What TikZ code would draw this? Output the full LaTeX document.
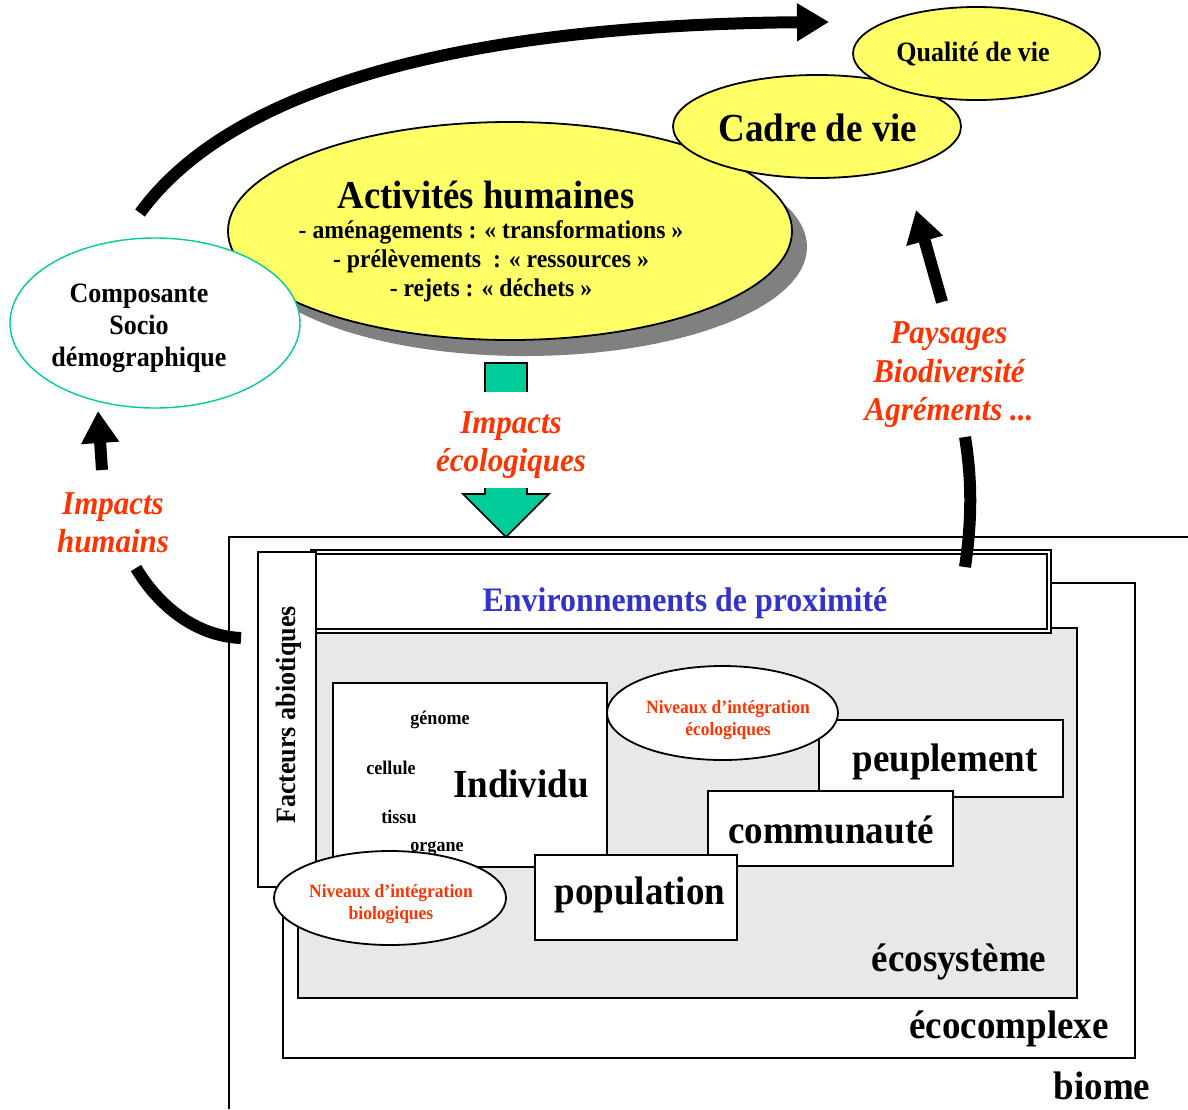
\documentclass[tikz,border=0pt]{standalone}
\usepackage{fontspec}
\setmainfont{Liberation Serif}[FakeStretch=0.93]
\usetikzlibrary{shapes.geometric,arrows.meta}
\definecolor{ylw}{HTML}{FFFF66}
\definecolor{grn}{HTML}{00CC99}
\definecolor{rd}{HTML}{FF3300}
\definecolor{bl}{HTML}{3333CC}
\definecolor{eco}{HTML}{E8E8E8}
\definecolor{shd}{HTML}{808080}
\tikzset{
  ell/.style={ellipse, draw=black, line width=1.8pt, inner sep=0pt},
  yell/.style={ell, fill=ylw},
  boxn/.style={rectangle, draw=black, line width=1.6pt, fill=white, inner sep=0pt},
  big/.style={font=\bfseries\fontsize{39.8}{42}\selectfont, inner sep=0pt},
  small/.style={font=\bfseries\fontsize{19.4}{21}\selectfont, inner sep=0pt},
  niv/.style={font=\bfseries\fontsize{18.8}{22}\selectfont, text=rd, align=center, inner sep=0pt},
  redlbl/.style={font=\bfseries\itshape\fontsize{33.3}{38.5}\selectfont, text=rd, align=center, inner sep=0pt},
  bigarrow/.style={line width=12pt, -{Triangle[length=32pt,width=36pt]}},
  thickline/.style={line width=12pt},
}
\begin{document}
\begin{tikzpicture}[x=1pt,y=-1pt]
\useasboundingbox (0,0) rectangle (1188,1109);

% top arrow
\coordinate (a1s) at (140,213);
\coordinate (a1e) at (829,22);
\draw[bigarrow] (a1s) .. controls (255,55) and (570,24) .. (a1e);

% yellow ellipses
\node[ellipse, fill=shd, minimum width=564pt, minimum height=218pt, inner sep=0pt] (shadow) at (525,247) {};
\node[yell, minimum width=564pt, minimum height=218pt] (act) at (510,231) {};
\node[font=\bfseries\fontsize{39.5}{42}\selectfont, inner sep=0pt] (actt) at (486,195) {Activités humaines};
\node[font=\bfseries\fontsize{25.5}{29}\selectfont, align=center, inner sep=0pt] (acts) at (491,261)
  {- aménagements : « transformations »\\- prélèvements~~: « ressources »\\- rejets : « déchets »};
\node[yell, minimum width=288pt, minimum height=103pt] (cadre) at (817,126.5) {};
\node[big] (cadret) at (818,128) {Cadre de vie};
\node[yell, minimum width=247pt, minimum height=93pt] (qual) at (976.5,53.5) {};
\node[font=\bfseries\fontsize{28}{30}\selectfont, inner sep=0pt] (qualt) at (973,54) {Qualité de vie};

% composante
\node[ellipse, draw=grn, line width=1.4pt, fill=white, minimum width=290pt, minimum height=170pt, inner sep=0pt] (comp) at (155,323) {};
\node[font=\bfseries\fontsize{28}{32}\selectfont, align=center, inner sep=0pt] (compt) at (139,328) {Composante\\Socio\\démographique};

% biome
\coordinate (b1) at (229,1109);
\coordinate (b2) at (229,537);
\coordinate (b3) at (1188,537);
\draw[line width=1.3pt] (b1) -- (b2) -- (b3);
\node[big] (biome) at (1102,1086) {biome};

% ecocomplexe
\node[boxn, line width=1.4pt, minimum width=852pt, minimum height=475pt] (ecoc) at (709,820.5) {};
\node[big] (ecoct) at (1009,1029) {écocomplexe};

% ecosysteme
\node[boxn, fill=eco, minimum width=779pt, minimum height=370pt] (ecos) at (687.5,813) {};
\node[big] (ecost) at (959,962) {écosystème};

% environnements de proximite
\node[rectangle, draw=black, fill=white, double=white, line width=1.7pt, double distance=2.4pt, minimum width=736pt, minimum height=79pt, inner sep=0pt] (env) at (681,591.5) {};
\node[font=\bfseries\fontsize{34.3}{36}\selectfont, text=bl, inner sep=0pt] (envt) at (685,603) {Environnements de proximité};

% facteurs abiotiques
\node[boxn, minimum width=58pt, minimum height=335pt] (fact) at (287,719.5) {};
\node[font=\bfseries\fontsize{28}{30}\selectfont, rotate=90, inner sep=0pt] (factt) at (289,715) {Facteurs abiotiques};

% individu
\node[boxn, minimum width=274pt, minimum height=184pt] (indiv) at (470,775) {};
\node[small] (genome) at (440,720) {génome};
\node[small] (cellule) at (391,768) {cellule};
\node[small] (tissu) at (399,817) {tissu};
\node[small] (organe) at (437,849) {organe};
\node[big] (indivt) at (521,784) {Individu};

% peuplement, communaute, population
\node[boxn, minimum width=244pt, minimum height=77pt] (peup) at (941,758.5) {};
\node[big] (peupt) at (945,762) {peuplement};
\node[boxn, minimum width=245pt, minimum height=75pt] (comm) at (830.5,828.5) {};
\node[big] (commt) at (831,830) {communauté};
\node[boxn, minimum width=202pt, minimum height=85pt] (pop) at (636,897.5) {};
\node[big] (popt) at (640,895) {population};

% niveaux d'integration
\node[ell, fill=white, minimum width=231pt, minimum height=94pt] (nivE) at (722.5,713) {};
\node[niv] (nivEt) at (728,720) {Niveaux d’intégration\\écologiques};
\node[ell, fill=white, minimum width=232pt, minimum height=94pt] (nivB) at (390,898) {};
\node[niv] (nivBt) at (391,904) {Niveaux d’intégration\\biologiques};

% green block arrow (impacts ecologiques)
\coordinate (g1) at (485,363);
\coordinate (g2) at (527,363);
\coordinate (g3) at (527,494);
\coordinate (g4) at (549,494);
\coordinate (g5) at (506,537);
\coordinate (g6) at (463,494);
\coordinate (g7) at (485,494);
\draw[line width=1.6pt, fill=grn, line join=miter] (g1) -- (g2) -- (g3) -- (g4) -- (g5) -- (g6) -- (g7) -- cycle;
\node[fill=white, minimum height=96pt, minimum width=170pt, inner sep=0pt] (impbg) at (511,440) {};
\node[redlbl] (impeco) at (511,445) {Impacts\\écologiques};

% impacts humains arrow
\coordinate (h1) at (241,638);
\coordinate (h2) at (136,568);
\coordinate (h3) at (102,470);
\coordinate (h4) at (98,411);
\draw[thickline] (h1) .. controls (195,636) and (158,605) .. (h2);
\draw[bigarrow] (h3) -- (h4);
\node[redlbl] (imphum) at (113,523) {Impacts\\humains};

% paysages arrow
\coordinate (r1) at (965,567);
\coordinate (r2) at (965,437);
\coordinate (r3) at (942,302);
\coordinate (r4) at (916,210);
\draw[thickline] (r1) .. controls (972,520) and (972,480) .. (r2);
\draw[bigarrow] (r3) -- (r4);
\node[redlbl] (pays) at (949,375) {Paysages\\Biodiversité\\Agréments ...};
\end{tikzpicture}
\end{document}
